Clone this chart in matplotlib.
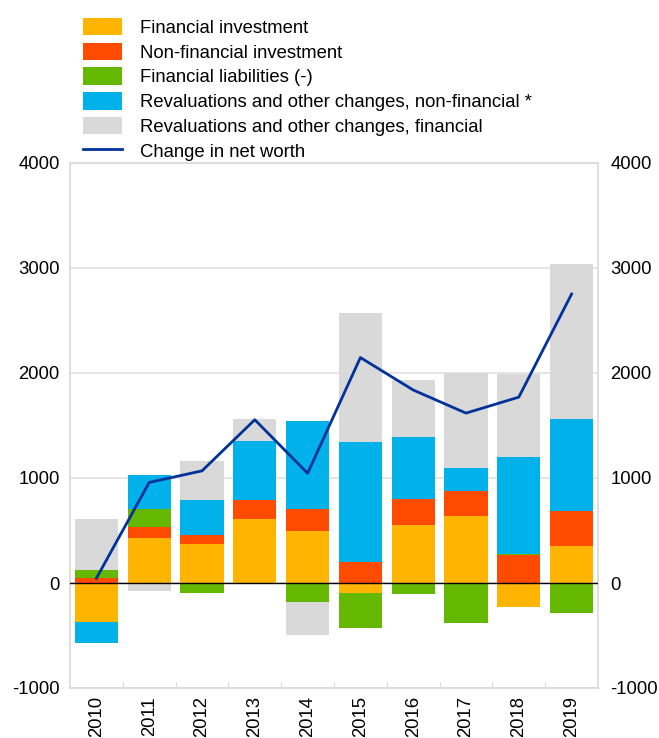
import numpy as np
import matplotlib.pyplot as plt
from matplotlib.patches import Patch
from matplotlib.lines import Line2D

# data (EUR billions)
years = ['2010', '2011', '2012', '2013', '2014', '2015', '2016', '2017', '2018', '2019']
fin_inv = [-375, 430, 368, 607, 495, -95, 556, 641, -225, 352]
nonfin_inv = [50, 104, 86, 181, 210, 200, 247, 235, 267, 337]
fin_liab = [74, 171, -95, 0, -181, -334, -105, -384, 10, -283]
reval_nonfin = [-193, 326, 336, 564, 835, 1146, 584, 222, 927, 870]
reval_fin = [486, -76, 369, 207, -314, 1228, 546, 902, 791, 1479]
net_worth = [45, 958, 1068, 1555, 1045, 2147, 1838, 1618, 1770, 2752]

labels = ['Financial investment', 'Non-financial investment', 'Financial liabilities (-)',
          'Revaluations and other changes, non-financial *',
          'Revaluations and other changes, financial']
colors = ['#FFB400', '#FF4B00', '#65B800', '#00B1EA', '#D9D9D9']
series = [fin_inv, nonfin_inv, fin_liab, reval_nonfin, reval_fin]
yticks = [-1000, 0, 1000, 2000, 3000, 4000]

plt.rcParams['font.family'] = 'Liberation Sans'
plt.rcParams['axes.unicode_minus'] = False
fs = 13.3
fig = plt.figure(figsize=(6.59, 7.38), dpi=100)
ax = fig.add_axes([70 / 659, 1 - 688 / 738, 528 / 659, 525 / 738])

x = np.arange(len(years))
pos = np.zeros(len(years))
neg = np.zeros(len(years))
for vals, c in zip(series, colors):
    v = np.array(vals, dtype=float)
    bottoms = np.where(v >= 0, pos, neg)
    ax.bar(x, v, width=0.82, bottom=bottoms, color=c, zorder=2)
    pos = pos + np.where(v >= 0, v, 0)
    neg = neg + np.where(v < 0, v, 0)

ax.plot(x, net_worth, color='#003299', lw=2, zorder=4)
ax.axhline(0, color='black', lw=1, zorder=3)

ax.set_xlim(-0.5, len(years) - 0.5)
ax.set_ylim(-1000, 4000)
ax.set_yticks(yticks)
ax.yaxis.grid(True, color='#E0E0E0', lw=1.2, zorder=0)
ax.tick_params(axis='y', length=0, labelsize=fs, pad=7.5)
ax.set_xticks(x)
ax.set_xticklabels(years, rotation=90, fontsize=fs)
ax.tick_params(axis='x', length=0, pad=6)
ax.set_xticks(np.arange(0.5, len(years) - 1, 1), minor=True)
ax.tick_params(axis='x', which='minor', length=4, color='#D0D0D0', direction='in')
for s in ax.spines.values():
    s.set_color('#D9D9D9')
    s.set_linewidth(1.2)

# right hand labels
ax2 = ax.twinx()
ax2.set_ylim(ax.get_ylim())
ax2.set_yticks(yticks)
ax2.tick_params(axis='y', length=0, labelsize=fs, pad=9)
for s in ax2.spines.values():
    s.set_visible(False)

handles = [Patch(facecolor=c, label=l) for c, l in zip(colors, labels)]
handles.append(Line2D([0], [0], color='#003299', lw=2, label='Change in net worth'))
fig.legend(handles=handles, loc='upper left', bbox_to_anchor=(76 / 659, 1 - 10.5 / 738),
           frameon=False, fontsize=fs, handlelength=2.1, handleheight=1.08,
           handletextpad=0.97, labelspacing=0.31, borderaxespad=0)

fig.savefig('out.png', dpi=100)
